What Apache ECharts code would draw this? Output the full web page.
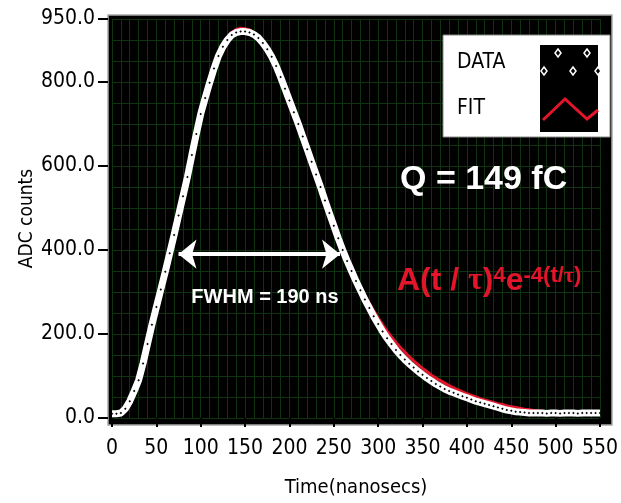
<!DOCTYPE html>
<html>
<head>
<meta charset="utf-8">
<script src="https://cdn.jsdelivr.net/npm/echarts@6/dist/echarts.min.js"></script>
<style>
html,body{margin:0;padding:0;background:#fff;}
#chart{width:621px;height:503px;}
</style>
</head>
<body>
<div id="chart"></div>
<script>
// Time axis (ns)
const times = [0,5,10,15,20,25,30,35,40,45,50,55,60,65,70,75,80,85,90,95,
  100,105,110,115,120,125,130,135,140,145,150,155,160,165,170,175,180,185,190,195,
  200,205,210,215,220,225,230,235,240,245,250,255,260,265,270,275,280,285,290,295,
  300,305,310,315,320,325,330,335,340,345,350,355,360,365,370,375,380,385,390,395,
  400,405,410,415,420,425,430,435,440,445,450,455,460,465,470,475,480,485,490,495,
  500,505,510,515,520,525,530,535,540,545,550];
// Measured ADC counts (DATA)
const dataCounts = [10,10,12,22,40,64,90,130,176,222,264,306,348,392,436,482,528,574,626,676,
  724,762,798,832,862,884,900,912,918,920,920,918,913,905,893,878,860,838,812,784,
  756,728,700,670,640,610,580,550,518,488,458,428,400,374,350,326,304,282,262,242,
  224,206,190,176,162,150,139,129,120,111,103,95,88,81,75,69,64,60,56,52,
  48,44,40,37,34,31,28,25,22,19,17,15,14,13,12,12,12,12,11,12,
  12,11,12,12,12,11,12,12,12,12,12];
// Fit curve A(t/tau)^4 e^-4(t/tau)
const fitCounts = [6,6,8,16,32,60,96,138,184,230,274,316,358,402,446,492,538,586,636,686,
  732,772,808,840,868,890,906,918,925,928,927,924,918,909,888,872,853,831,806,778,
  750,721,692,662,632,602,572,543,514,486,458,431,405,380,356,333,312,292,273,255,
  238,222,207,193,180,168,157,146,136,127,118,110,102,95,89,83,77,72,67,62,
  58,54,50,46,43,40,37,34,32,29,27,25,23,21,20,18,17,16,15,14,
  13,12,12,11,11,11,10,10,10,10,10];
const yTickLabels = [0,200,400,600,800,950];
const fwhmRange = [75, 257];
const fwhmLevel = 390;

const NARROW = '"DejaVu Sans Condensed","Liberation Sans Narrow",sans-serif';
const BOLD = '"Liberation Sans",Arial,sans-serif';
const GRID_COLOR = '#0f330f';
const RED = '#e3152b';

const chart = echarts.init(document.getElementById('chart'), null, {renderer:'canvas'});

const diamonds = [[558,53],[587,53],[544,71],[573,71],[598,71]].map(p => ({
  type:'polygon', z:101,
  shape:{points:[[p[0],p[1]-4],[p[0]+3,p[1]],[p[0],p[1]+4],[p[0]-3,p[1]]]},
  style:{fill:'#000', stroke:'#fff', lineWidth:1.5}
}));

const option = {
  backgroundColor:'#fff',
  animation:false,
  grid:{left:112, right:11, top:19, bottom:80, containLabel:false},
  xAxis:{
    type:'value', min:0, max:550, interval:50,
    offset:6,
    name:'Time(nanosecs)', nameLocation:'middle', nameGap:54, nameMoveOverlap:false,
    nameTextStyle:{fontFamily:NARROW, fontSize:20, color:'#000'},
    axisLine:{show:false},
    axisTick:{show:true, length:9, lineStyle:{color:'#000', width:2}},
    axisLabel:{fontFamily:NARROW, fontSize:21, color:'#000', margin:14},
    splitLine:{show:true, lineStyle:{color:GRID_COLOR, width:1}},
    minorTick:{show:false, splitNumber:5},
    minorSplitLine:{show:true, lineStyle:{color:GRID_COLOR, width:1}}
  },
  yAxis:[{
    type:'value', min:0, max:950, interval:50,
    axisLine:{show:false}, axisTick:{show:false}, axisLabel:{show:false},
    splitLine:{show:true, lineStyle:{color:GRID_COLOR, width:1}}
  },{
    type:'value', min:0, max:950, position:'left', offset:4,
    name:'ADC counts', nameLocation:'middle', nameGap:71, nameMoveOverlap:false,
    nameTextStyle:{fontFamily:NARROW, fontSize:19, color:'#000'},
    axisLine:{show:false},
    axisTick:{show:true, length:10, lineStyle:{color:'#000', width:2}, customValues:yTickLabels},
    axisLabel:{fontFamily:NARROW, fontSize:21, color:'#000', margin:13,
      customValues:yTickLabels, formatter:v => v.toFixed(1)},
    splitLine:{show:false}
  }],
  series:[{
    name:'FIT', type:'line', yAxisIndex:0, z:3,
    data: times.map((t,i)=>[t, fitCounts[i]]),
    showSymbol:false, smooth:false,
    lineStyle:{color:RED, width:3}
  },{
    name:'DATA', type:'line', yAxisIndex:0, z:4,
    data: times.map((t,i)=>[t, dataCounts[i]]),
    showSymbol:true, showAllSymbol:true, symbol:'diamond', symbolSize:2.5,
    itemStyle:{color:'#000', borderWidth:0},
    lineStyle:{color:'#fff', width:7},
    markLine:{
      silent:true, symbol:['arrow','arrow'], symbolSize:[22,18],
      label:{show:false},
      lineStyle:{color:'#fff', width:4, type:'solid'},
      data:[[{coord:[fwhmRange[0], fwhmLevel]},{coord:[fwhmRange[1], fwhmLevel]}]]
    }
  }],
  graphic:[
    {type:'rect', z:-5, shape:{x:108, y:15, width:504, height:410},
      style:{fill:'#000', stroke:'#a8a8a8', lineWidth:1.5}},
    {type:'text', z:100, x:265, y:297,
      style:{text:'FWHM = 190 ns', fill:'#fff', font:'bold 20px '+BOLD, align:'center', verticalAlign:'middle'}},
    {type:'text', z:100, x:400, y:180,
      style:{text:'Q = 149 fC', fill:'#fff', font:'bold 34px '+BOLD, align:'left', verticalAlign:'middle'}},
    {type:'text', z:100, x:397, y:278,
      style:{
        text:'{m|A(t / }{g|τ}{m|)}{s|4}{m|e}{s|-4(t/}{gs|τ}{s|)}',
        align:'left', verticalAlign:'middle',
        rich:{
          m:{fontFamily:BOLD, fontWeight:'bold', fontSize:32, fill:RED, lineHeight:38, verticalAlign:'bottom'},
          g:{fontFamily:'"Liberation Serif",serif', fontWeight:'bold', fontSize:32, fill:RED, lineHeight:38, verticalAlign:'bottom'},
          s:{fontFamily:BOLD, fontWeight:'bold', fontSize:22, fill:RED, lineHeight:24, verticalAlign:'top', padding:[6,0,0,0]},
          gs:{fontFamily:'"Liberation Serif",serif', fontWeight:'bold', fontSize:22, fill:RED, lineHeight:24, verticalAlign:'top', padding:[6,0,0,0]}
        }
      }},
    {type:'rect', z:100, shape:{x:443, y:35, width:167, height:102},
      style:{fill:'#fff', stroke:'#888', lineWidth:1}},
    {type:'rect', z:100, shape:{x:540, y:45, width:58, height:87}, style:{fill:'#000'}},
    {type:'text', z:101, x:457, y:63,
      style:{text:'DATA', fill:'#000', font:'21px '+NARROW, align:'left', verticalAlign:'middle'}},
    {type:'text', z:101, x:457, y:109,
      style:{text:'FIT', fill:'#000', font:'21px '+NARROW, align:'left', verticalAlign:'middle'}},
    {type:'polyline', z:101, shape:{points:[[543,120],[565,99],[587,119],[598,110]]},
      style:{stroke:RED, lineWidth:3, fill:null}}
  ].concat(diamonds)
};
chart.setOption(option);
</script>
</body>
</html>
